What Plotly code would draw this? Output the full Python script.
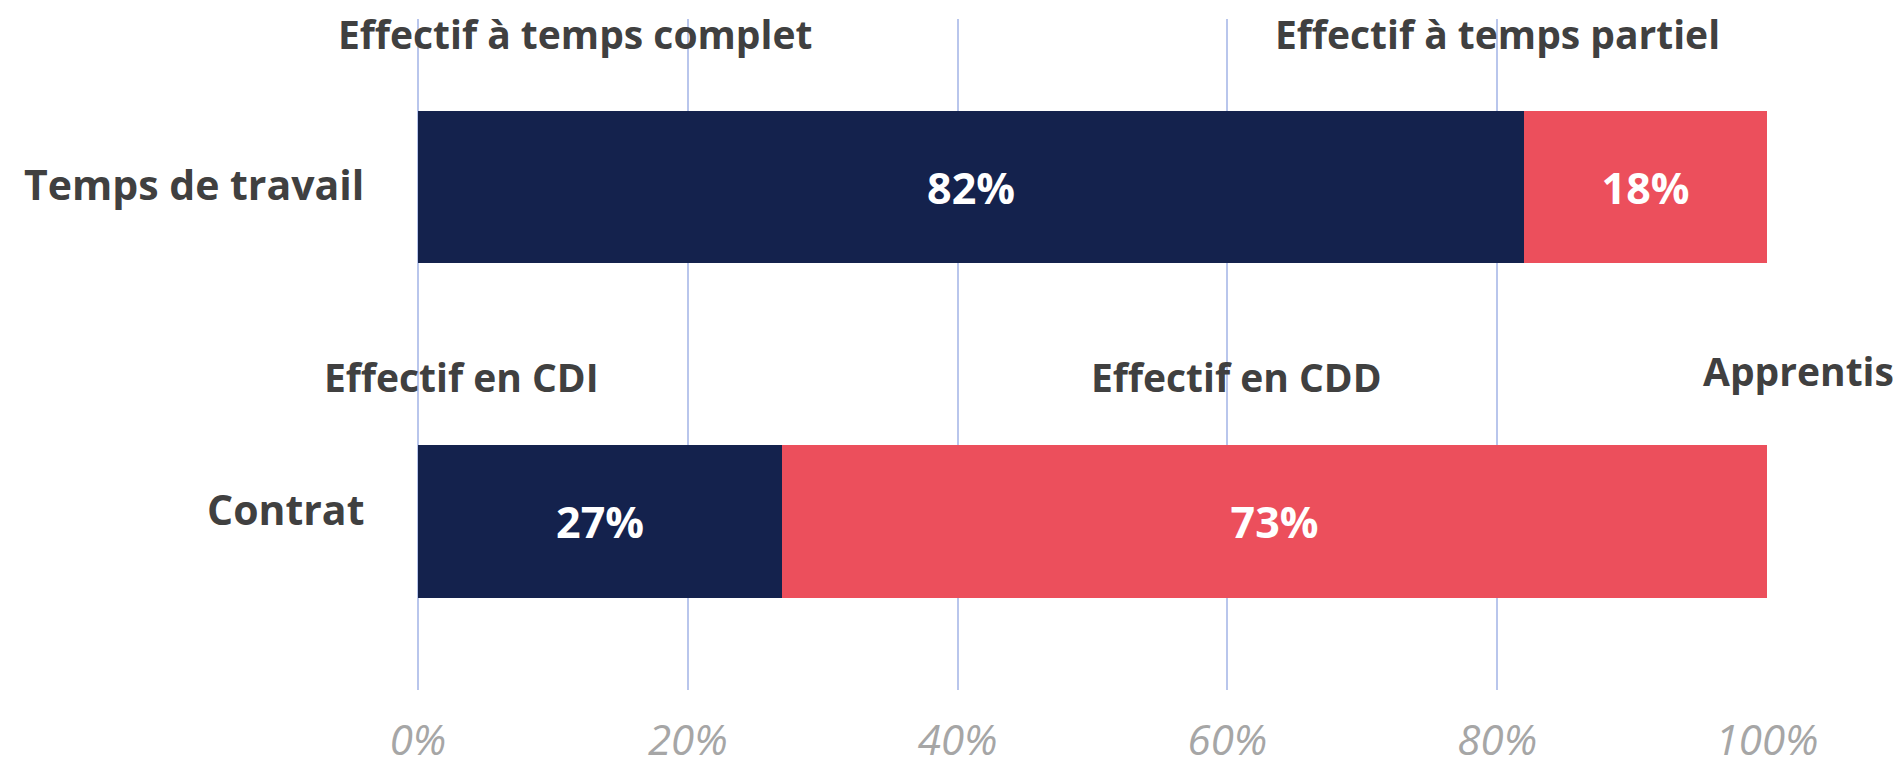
import plotly.graph_objects as go

# ---- data ----
categories = ["Temps de travail", "Contrat"]
dark_values = [0.82, 0.27]
red_values = [0.18, 0.73]
dark_names = ["Effectif à temps complet", "Effectif en CDI"]
red_names = ["Effectif à temps partiel", "Effectif en CDD"]
extra_name = "Apprentis"
tick_vals = [0, 0.2, 0.4, 0.6, 0.8, 1.0]
tick_text = ["0%", "20%", "40%", "60%", "80%", "100%"]

NAVY = "#14224D"
RED = "#EC4F5C"
TXT = "#404040"
GRID = "#B9C6EC"
FONT = "Open Sans"

fig = go.Figure()
for vals, col in ((dark_values, NAVY), (red_values, RED)):
    fig.add_trace(go.Bar(
        y=categories, x=vals, orientation="h", width=0.455,
        marker=dict(color=col, line=dict(width=0)),
        text=[f"{v:.0%}" for v in vals], textposition="inside",
        insidetextanchor="middle",
        textfont=dict(family=FONT, size=43, color="white", weight="bold"),
        showlegend=False,
    ))

# category labels (left of the bars)
cat_font = dict(family=FONT, size=41, color=TXT, weight="bold")
for cat, ys in zip(categories, (3, 12)):
    fig.add_annotation(x=0, y=cat, xref="x", yref="y", text=cat, showarrow=False,
                       xanchor="right", yanchor="middle", xshift=-52, yshift=ys,
                       font=cat_font)

# series name labels
label_font = dict(family=FONT, size=39, color=TXT, weight="bold")
ann_specs = [
    (dark_names[0], 0.1164, -0.457, "center", 1, "x"),
    (red_names[0], 0.800, -0.457, "center", 1, "x"),
    (dark_names[1], 0.0319, 0.580, "center", 4, "x"),
    (red_names[1], 0.607, 0.580, "center", 4, "x"),
    (extra_name, 1.0956, 0.562, "right", 4, "paper"),
]
for text, x, y, anchor, ys, xr in ann_specs:
    fig.add_annotation(x=x, y=y, xref=xr, yref="y", text=text, showarrow=False,
                       xanchor=anchor, yanchor="middle", yshift=ys, font=label_font)

fig.update_layout(
    barmode="stack",
    width=1893, height=757,
    margin=dict(l=410, r=134, t=11, b=75),
    paper_bgcolor="white", plot_bgcolor="white",
    bargap=0,
)
fig.update_xaxes(
    range=[0, 1], tickvals=tick_vals, ticktext=tick_text,
    showgrid=True, gridcolor=GRID, gridwidth=2,
    zeroline=True, zerolinecolor=GRID, zerolinewidth=2,
    showline=False, ticks="", automargin=False,
    tickfont=dict(family=FONT, size=42, color="#A6A6A6", style="italic"),
    ticklabelstandoff=22,
)
fig.update_yaxes(
    range=[1.504, -0.502], categoryorder="array", categoryarray=categories,
    showgrid=False, zeroline=False, showline=False, ticks="", automargin=False,
    showticklabels=False,
)

fig.write_html("out.html")
